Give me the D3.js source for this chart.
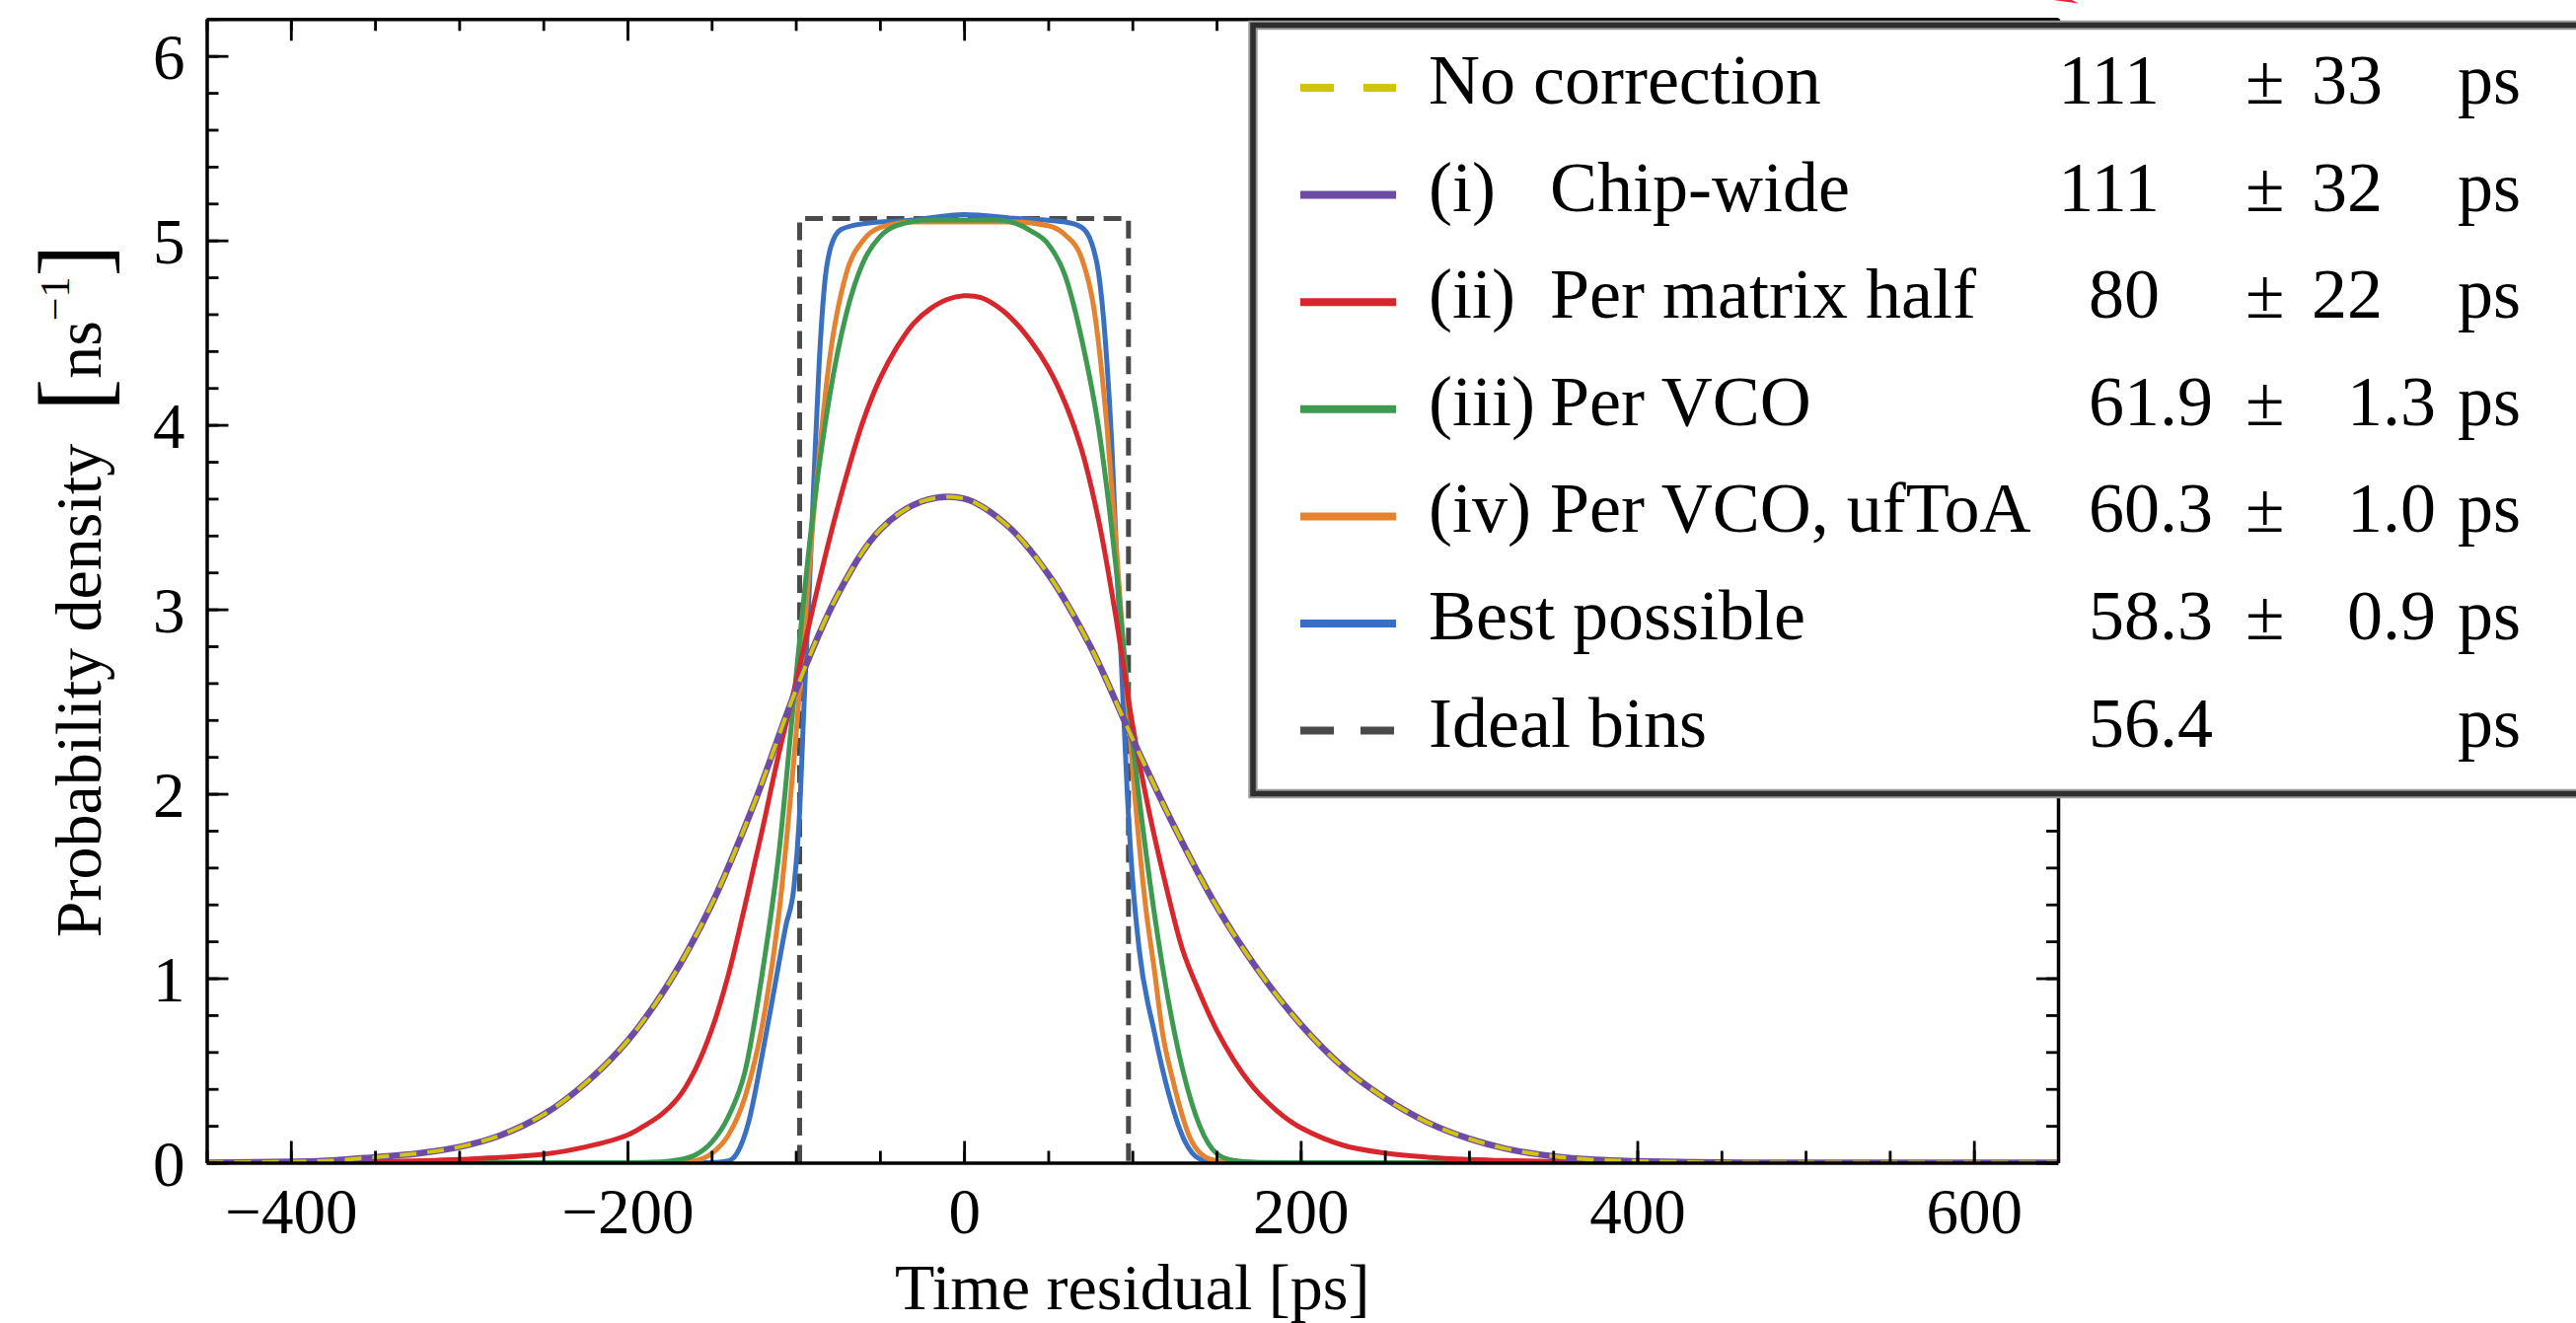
<!DOCTYPE html>
<html>
<head>
<meta charset="utf-8">
<script src="https://cdn.jsdelivr.net/npm/d3@7"></script>
<style>
  html, body { margin: 0; padding: 0; background: #fff; }
  svg { display: block; }
  text { font-family: "Liberation Serif", "Times New Roman", Times, serif; fill: #000; }
</style>
</head>
<body>
<svg id="chart" width="2611" height="1341" font-family="Liberation Serif, Times New Roman, serif"></svg>
<script>
// Time residual distributions per calibration stage.
// x: time residual [ps], y: probability density [ns^-1]

const noCorrX = [-450,-400,-375,-350,-325,-300,-275,-250,-225,-200,-175,-150,-125,-100,-75,-50,-25,0,25,50,75,100,125,150,175,200,225,250,275,300,325,350,375,400,450,500,650];
const noCorrY = [0,0.005,0.012,0.03,0.05,0.085,0.15,0.26,0.43,0.66,0.98,1.40,1.94,2.56,3.08,3.43,3.585,3.60,3.46,3.19,2.80,2.30,1.82,1.39,1.04,0.75,0.52,0.35,0.22,0.13,0.07,0.035,0.016,0.008,0.001,0,0];

const chipX = [-450,-400,-375,-350,-325,-300,-275,-250,-225,-200,-175,-150,-125,-100,-75,-50,-25,0,25,50,75,100,125,150,175,200,225,250,275,300,325,350,375,400,450,500,650];
const chipY = [0,0.005,0.012,0.03,0.05,0.085,0.15,0.26,0.43,0.66,0.98,1.40,1.94,2.56,3.08,3.43,3.585,3.60,3.46,3.19,2.80,2.30,1.82,1.39,1.04,0.75,0.52,0.35,0.22,0.13,0.07,0.035,0.016,0.008,0.001,0,0];

const halfX = [-450,-400,-350,-300,-250,-225,-200,-190,-180,-170,-160,-150,-140,-130,-120,-110,-100,-90,-80,-70,-60,-50,-40,-30,-20,-10,0,10,20,30,40,50,60,70,80,90,100,110,120,130,140,150,160,170,180,190,200,225,250,275,300,350,400,450,650];
const halfY = [0,0.002,0.006,0.018,0.045,0.085,0.15,0.20,0.26,0.35,0.50,0.72,1.02,1.40,1.80,2.22,2.60,3.00,3.38,3.72,4.02,4.25,4.42,4.55,4.63,4.68,4.70,4.69,4.64,4.56,4.45,4.31,4.12,3.86,3.48,2.97,2.38,1.90,1.50,1.15,0.92,0.72,0.56,0.43,0.33,0.25,0.19,0.095,0.052,0.03,0.018,0.006,0.002,0,0];

const vcoX = [-450,-200,-180,-170,-160,-150,-140,-130,-120,-110,-100,-90,-80,-70,-60,-50,-40,-20,0,20,40,50,60,70,80,90,100,110,120,130,140,150,160,175,200,650];
const vcoY = [0,0,0.004,0.015,0.04,0.11,0.25,0.50,1.02,1.68,2.62,3.50,4.15,4.60,4.88,5.02,5.08,5.11,5.11,5.11,5.05,4.98,4.81,4.46,3.98,3.25,2.30,1.55,0.95,0.50,0.20,0.05,0.012,0.002,0,0];

const uftoaX = [-450,-170,-160,-150,-140,-130,-120,-110,-100,-90,-80,-70,-60,-50,-30,0,30,50,60,70,77,85,90,95,100,108,113,118,124,135,146,160,650];
const uftoaY = [0,0,0.01,0.05,0.15,0.36,0.74,1.35,2.30,3.45,4.35,4.82,5.00,5.07,5.10,5.10,5.10,5.08,5.03,4.90,4.64,3.98,3.40,2.75,2.15,1.38,1.05,0.70,0.45,0.12,0.02,0,0];

const bestX = [-450,-150,-140,-135,-128,-120,-112,-106,-101,-98,-95,-92,-89,-86,-83,-79,-73,-60,-30,0,30,60,70,76,80,84,88,91,94,97,100,104,113,122,131,140,150,650];
const bestY = [0,0,0.01,0.05,0.22,0.58,0.98,1.28,1.50,1.85,2.50,3.10,3.75,4.35,4.75,4.97,5.06,5.09,5.11,5.14,5.12,5.10,5.07,4.98,4.82,4.45,3.85,3.20,2.60,2.00,1.55,1.16,0.71,0.36,0.12,0.02,0,0];

// Uniform distribution of the ideal bins (RMS 56.4 ps)
const idealX = [-97.7,-97.7,97.7,97.7];
const idealY = [0,5.118,5.118,0];

// Axis ticks
const xTickValues = [-400,-200,0,200,400,600];
const xMinorValues = d3.range(-450, 651, 50);
const yTickValues = [0,1,2,3,4,5,6];
const yMinorValues = d3.range(0, 6.21, 0.2).map(v => +v.toFixed(1));

// Legend table
const legendTags   = ["", "(i)", "(ii)", "(iii)", "(iv)", "", ""];
const legendNames  = ["No correction", "Chip-wide", "Per matrix half", "Per VCO", "Per VCO, ufToA", "Best possible", "Ideal bins"];
const legendValues = ["111", "111", "80", "61.9", "60.3", "58.3", "56.4"];
const legendErrors = ["33", "32", "22", "1.3", "1.0", "0.9", ""];

const COLORS = {
  none: "#d1c40f", chip: "#6c4ca4", half: "#d7262c", vco: "#3d9a50",
  uftoa: "#e5822f", best: "#3a70c1", ideal: "#4a4a4a"
};
const SERIF = "Liberation Serif, Times New Roman, serif";

const svg = d3.select("#chart");
svg.append("rect").attr("width", 2611).attr("height", 1341).attr("fill", "#fff");

const x = d3.scaleLinear().domain([-450, 650]).range([209.5, 2086]);
const y = d3.scaleLinear().domain([0, 6.2]).range([1178.5, 19.3]);

svg.append("clipPath").attr("id", "plotclip")
  .append("rect").attr("x", x(-450)).attr("y", y(6.2))
  .attr("width", x(650) - x(-450)).attr("height", y(0) - y(6.2));

const plot = svg.append("g").attr("clip-path", "url(#plotclip)");
const monotone = d3.line().x(d => x(d[0])).y(d => y(d[1])).curve(d3.curveMonotoneX);
const rounded = d3.line().x(d => x(d[0])).y(d => y(d[1])).curve(d3.curveCatmullRom.alpha(0.5));
const straight = d3.line().x(d => x(d[0])).y(d => y(d[1]));
const pairs = (xs, ys) => xs.map((v, i) => [v, ys[i]]);

const series = [
  { xs: idealX, ys: idealY, color: COLORS.ideal, dash: "18,9.5", gen: straight, w: 5 },
  { xs: bestX,  ys: bestY,  color: COLORS.best,  dash: null, gen: monotone, w: 5 },
  { xs: uftoaX, ys: uftoaY, color: COLORS.uftoa, dash: null, gen: monotone, w: 5 },
  { xs: vcoX,   ys: vcoY,   color: COLORS.vco,   dash: null, gen: monotone, w: 5 },
  { xs: halfX,  ys: halfY,  color: COLORS.half,  dash: null, gen: rounded, w: 5 },
  { xs: chipX,  ys: chipY,  color: COLORS.chip,  dash: null, gen: rounded, w: 6.5 },
  { xs: noCorrX, ys: noCorrY, color: COLORS.none, dash: "17,11", gen: rounded, w: 4 }
];

series.forEach(s => {
  plot.append("path")
    .attr("d", s.gen(pairs(s.xs, s.ys)))
    .attr("fill", "none")
    .attr("stroke", s.color)
    .attr("stroke-width", s.w)
    .attr("stroke-linejoin", "round")
    .attr("stroke-dasharray", s.dash);
});

// Axes: inward ticks on all four sides
const fmt = d => d < 0 ? "\u2212" + Math.abs(d) : String(d);
const MAJ = 22, MIN = 12;

function styleAxis(g) {
  g.attr("font-family", SERIF);
  g.select(".domain").attr("stroke", "#000").attr("stroke-width", 3.5);
  g.selectAll(".tick line").attr("stroke", "#000").attr("stroke-width", 2.8);
}

const gBottom = svg.append("g").attr("transform", `translate(0,${y(0)})`);
gBottom.call(d3.axisBottom(x).tickValues(xMinorValues).tickSizeInner(-MIN).tickSizeOuter(0).tickFormat(""));
gBottom.append("g").call(d3.axisBottom(x).tickValues(xTickValues).tickSizeInner(-MAJ).tickSizeOuter(0).tickFormat(fmt))
  .call(g => g.select(".domain").remove())
  .call(g => g.selectAll("text").attr("y", 71.5).attr("dy", 0).attr("font-size", 65).attr("fill", "#000")
    .attr("font-family", SERIF));
gBottom.call(styleAxis);
gBottom.selectAll("g").call(styleAxis);

const gTop = svg.append("g").attr("transform", `translate(0,${y(6.2)})`);
gTop.call(d3.axisTop(x).tickValues(xMinorValues).tickSizeInner(-MIN).tickSizeOuter(0).tickFormat(""));
gTop.append("g").call(d3.axisTop(x).tickValues(xTickValues).tickSizeInner(-MAJ).tickSizeOuter(0).tickFormat(""))
  .call(g => g.select(".domain").remove());
gTop.call(styleAxis);
gTop.selectAll("g").call(styleAxis);

const gLeft = svg.append("g").attr("transform", `translate(${x(-450)},0)`);
gLeft.call(d3.axisLeft(y).tickValues(yMinorValues).tickSizeInner(-MIN).tickSizeOuter(0).tickFormat(""));
gLeft.append("g").call(d3.axisLeft(y).tickValues(yTickValues).tickSizeInner(-MAJ).tickSizeOuter(0).tickFormat(fmt))
  .call(g => g.select(".domain").remove())
  .call(g => g.selectAll("text").attr("x", -22).attr("dy", "0.35em").attr("font-size", 65).attr("fill", "#000")
    .attr("font-family", SERIF));
gLeft.call(styleAxis);
gLeft.selectAll("g").call(styleAxis);

const gRight = svg.append("g").attr("transform", `translate(${x(650)},0)`);
gRight.call(d3.axisRight(y).tickValues(yMinorValues).tickSizeInner(-MIN).tickSizeOuter(0).tickFormat(""));
gRight.append("g").call(d3.axisRight(y).tickValues(yTickValues).tickSizeInner(-MAJ).tickSizeOuter(0).tickFormat(""))
  .call(g => g.select(".domain").remove());
gRight.call(styleAxis);
gRight.selectAll("g").call(styleAxis);

// Axis titles
svg.append("text")
  .attr("x", (x(-450) + x(650)) / 2).attr("y", 1327)
  .attr("text-anchor", "middle").attr("font-size", 66).attr("font-family", SERIF)
  .text("Time residual [ps]");

const yTitle = svg.append("text")
  .attr("transform", `translate(102,${(y(0) + y(6.2)) / 2}) rotate(-90)`)
  .attr("text-anchor", "middle").attr("font-size", 66).attr("font-family", SERIF);
yTitle.append("tspan").text("Probability density\u2002");
yTitle.append("tspan").attr("font-size", 99).attr("dy", 5.5).text("[");
yTitle.append("tspan").attr("dy", -5.5).text("ns");
yTitle.append("tspan").attr("font-size", 42).attr("dy", -32).text("\u22121");
yTitle.append("tspan").attr("font-size", 99).attr("dy", 37.5).text("]");

// Legend table
const legend = svg.append("g").attr("font-family", SERIF);
legend.append("rect")
  .attr("x", 1270).attr("y", 25.5).attr("width", 1400).attr("height", 779)
  .attr("fill", "#fff").attr("stroke", "#9a9a9a").attr("stroke-width", 9.5);
legend.append("rect")
  .attr("x", 1270).attr("y", 25.5).attr("width", 1400).attr("height", 779)
  .attr("fill", "none").attr("stroke", "#2e2e2e").attr("stroke-width", 5.5);

const handleStyles = [
  { color: COLORS.none,  dash: "34,30" },
  { color: COLORS.chip,  dash: null },
  { color: COLORS.half,  dash: null },
  { color: COLORS.vco,   dash: null },
  { color: COLORS.uftoa, dash: null },
  { color: COLORS.best,  dash: null },
  { color: COLORS.ideal, dash: "34,27" }
];

const ROW0 = 89, ROWSTEP = 108.6, FS = 72;
legendNames.forEach((name, i) => {
  const cy = ROW0 + i * ROWSTEP;
  const base = cy + 16;
  legend.append("line")
    .attr("x1", 1318).attr("x2", 1415).attr("y1", cy).attr("y2", cy)
    .attr("stroke", handleStyles[i].color).attr("stroke-width", 8)
    .attr("stroke-dasharray", handleStyles[i].dash);

  if (legendTags[i]) {
    legend.append("text").attr("x", 1448).attr("y", base).attr("font-size", FS).text(legendTags[i]);
    legend.append("text").attr("x", 1571).attr("y", base).attr("font-size", FS).text(name);
  } else {
    legend.append("text").attr("x", 1448).attr("y", base).attr("font-size", FS).text(name);
  }

  // value, aligned on the decimal point
  const [vi, vf] = legendValues[i].split(".");
  legend.append("text").attr("x", 2189).attr("y", base).attr("font-size", FS)
    .attr("text-anchor", "end").text(vi);
  if (vf !== undefined) {
    legend.append("text").attr("x", 2189).attr("y", base).attr("font-size", FS).text("." + vf);
  }

  if (legendErrors[i]) {
    legend.append("text").attr("x", 2276).attr("y", base).attr("font-size", FS).text("\u00b1");
    const [ei, ef] = legendErrors[i].split(".");
    legend.append("text").attr("x", 2415).attr("y", base).attr("font-size", FS)
      .attr("text-anchor", "end").text(ei);
    if (ef !== undefined) {
      legend.append("text").attr("x", 2415).attr("y", base).attr("font-size", FS).text("." + ef);
    }
  }

  legend.append("text").attr("x", 2491).attr("y", base).attr("font-size", FS).text("ps");
});

// Small red arrow tip at the top edge
svg.append("path")
  .attr("d", "M2081,0 L2100,0 L2107,3.5 Z")
  .attr("fill", "#e8203f");
</script>
</body>
</html>
